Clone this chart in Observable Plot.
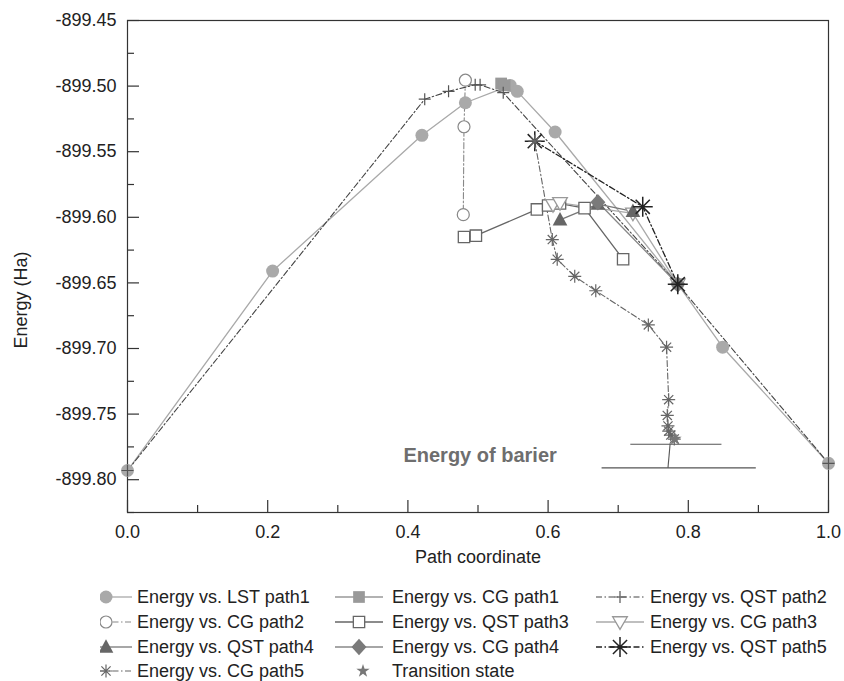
<!DOCTYPE html>
<html>
<head>
<meta charset="utf-8">
<script src="https://cdn.jsdelivr.net/npm/d3@7"></script>
<script src="https://cdn.jsdelivr.net/npm/@observablehq/plot@0.6"></script>
<style>
html,body{margin:0;padding:0;background:#fff;}
#wrap{position:relative;width:844px;height:681px;overflow:hidden;font-family:"Liberation Sans",Arial,Helvetica,sans-serif;}
#chart{position:absolute;left:0;top:0;}
.lt{position:absolute;font-size:18px;color:#222;white-space:nowrap;line-height:20px;}
.ls{position:absolute;}
</style>
</head>
<body>
<div id="wrap"><div id="chart"></div></div>
<script>
// ---- data ----
const lstX  = [0, 0.207, 0.42, 0.482, 0.546, 0.556, 0.61, 0.785, 0.849, 1.0];
const lstY  = [-899.793, -899.641, -899.5375, -899.5127, -899.4995, -899.504, -899.535, -899.651, -899.699, -899.7875];
const cg1X  = [0.533, 0.538];
const cg1Y  = [-899.498, -899.4995];
const qst2X = [0, 0.424, 0.458, 0.496, 0.503, 0.536, 0.785, 1.0];
const qst2Y = [-899.793, -899.510, -899.504, -899.499, -899.499, -899.505, -899.651, -899.7875];
const cg2X  = [0.482, 0.480, 0.479];
const cg2Y  = [-899.4955, -899.531, -899.598];
const qst3X = [0.480, 0.497, 0.584, 0.600, 0.617, 0.652, 0.707];
const qst3Y = [-899.615, -899.614, -899.594, -899.591, -899.5895, -899.593, -899.632];
const cg3X  = [0.607, 0.617, 0.721, 0.785];
const cg3Y  = [-899.5905, -899.589, -899.597, -899.651];
const qst4X = [0.617, 0.671, 0.721];
const qst4Y = [-899.602, -899.590, -899.5955];
const cg4X  = [0.671, 0.785];
const cg4Y  = [-899.5885, -899.651];
const qst5X = [0.581, 0.735, 0.785];
const qst5Y = [-899.542, -899.592, -899.651];
const cg5X  = [0.581, 0.606, 0.613, 0.638, 0.668, 0.743, 0.769, 0.772, 0.770, 0.771, 0.772, 0.775, 0.780];
const cg5Y  = [-899.542, -899.617, -899.632, -899.645, -899.656, -899.682, -899.699, -899.739, -899.751, -899.759, -899.763, -899.766, -899.769];
const tsX   = [0.781];
const tsY   = [-899.769];
const barrierLevels = [-899.773, -899.791];
const barrierX1 = [0.718, 0.677];
const barrierX2 = [0.848, 0.897];
const barrierLink = {x1: 0.774, y1: -899.773, x2: 0.771, y2: -899.791};
const barrierLabel = {x: 0.503, y: -899.7815, text: "Energy of barier"};
const xTicks = [0, 0.2, 0.4, 0.6, 0.8, 1.0];
const xMinor = [0.1, 0.3, 0.5, 0.7, 0.9];
const yTicks = [-899.80, -899.75, -899.70, -899.65, -899.60, -899.55, -899.50, -899.45];
const yMinor = [-899.825, -899.775, -899.725, -899.675, -899.625, -899.575, -899.525, -899.475];
const xLabel = "Path coordinate";
const yLabel = "Energy (Ha)";

// ---- symbols ----
const rad = s => Math.sqrt(s / Math.PI);
const symCircle = {draw(c, s){ const r = rad(s); c.moveTo(r,0); c.arc(0,0,r,0,2*Math.PI); }};
const symSquare = {draw(c, s){ const r = rad(s)*0.9; c.rect(-r,-r,2*r,2*r); }};
const symTriUp = {draw(c, s){ const r = rad(s); c.moveTo(0,-r*1.05); c.lineTo(r*0.98,r*0.75); c.lineTo(-r*0.98,r*0.75); c.closePath(); }};
const symTriDown = {draw(c, s){ const r = rad(s); c.moveTo(-r*1.05,-r*0.75); c.lineTo(r*1.05,-r*0.75); c.lineTo(0,r*1.05); c.closePath(); }};
const symDiamond = {draw(c, s){ const r = rad(s); c.moveTo(0,-r*1.1); c.lineTo(r,0); c.lineTo(0,r*1.1); c.lineTo(-r,0); c.closePath(); }};
const symPlus = {draw(c, s){ const r = rad(s); c.moveTo(-r,0); c.lineTo(r,0); c.moveTo(0,-r); c.lineTo(0,r); }};
const symAst = {draw(c, s){ const r = rad(s); for (let i = 0; i < 4; i++){ const a = i*Math.PI/4, dx = r*Math.cos(a), dy = r*Math.sin(a); c.moveTo(-dx,-dy); c.lineTo(dx,dy);} }};
const symStar = d3.symbolStar;

const DD = "6,2.5,1.5,2.5";
const series = [
  {label:"Energy vs. LST path1", xs:lstX,  ys:lstY,  sym:symCircle,  r:6.5, fill:"#a9a9a9", stroke:"none", sw:1,   line:"#a9a9a9", lw:1.3, dash:null},
  {label:"Energy vs. CG path1",  xs:cg1X,  ys:cg1Y,  sym:symSquare,  r:6.5, fill:"#999999", stroke:"none", sw:1,   line:"#999999", lw:1.3, dash:null},
  {label:"Energy vs. QST path2", xs:qst2X, ys:qst2Y, sym:symPlus,    r:6,   fill:"none",    stroke:"#555", sw:1.2, line:"#444",    lw:1.1, dash:DD},
  {label:"Energy vs. CG path2",  xs:cg2X,  ys:cg2Y,  sym:symCircle,  r:6,   fill:"white",   stroke:"#888", sw:1.2, line:"#888",    lw:1.1, dash:DD},
  {label:"Energy vs. QST path3", xs:qst3X, ys:qst3Y, sym:symSquare,  r:6.3, fill:"white",   stroke:"#666", sw:1.3, line:"#666",    lw:1.3, dash:null},
  {label:"Energy vs. CG path3",  xs:cg3X,  ys:cg3Y,  sym:symTriDown, r:7,   fill:"white",   stroke:"#999", sw:1.3, line:"#aaaaaa", lw:1.3, dash:null},
  {label:"Energy vs. QST path4", xs:qst4X, ys:qst4Y, sym:symTriUp,   r:7.5, fill:"#666666", stroke:"none", sw:1,   line:"#777",    lw:1.3, dash:null},
  {label:"Energy vs. CG path4",  xs:cg4X,  ys:cg4Y,  sym:symDiamond, r:7.5, fill:"#7a7a7a", stroke:"none", sw:1,   line:"#888",    lw:1.3, dash:null},
  {label:"Energy vs. QST path5", xs:qst5X, ys:qst5Y, sym:symAst,     r:10,  fill:"none",    stroke:"#222", sw:1.5, line:"#222",    lw:1.3, dash:DD},
  {label:"Energy vs. CG path5",  xs:cg5X,  ys:cg5Y,  sym:symAst,     r:6.5, fill:"none",    stroke:"#666", sw:1.2, line:"#666",    lw:1.1, dash:DD},
  {label:"Transition state",     xs:tsX,   ys:tsY,   sym:symStar,    r:4.2, fill:"#777777", stroke:"none", sw:1,   line:null,      lw:0,   dash:null}
];
series.forEach(s => s.data = s.xs.map((x, i) => ({x, y: s.ys[i]})));

const yMin = -899.825, yMax = -899.45;
const H = 580, MT = 20, MB = 68, ML = 127, MR = 16;
const pxY = (yMax - yMin) / (H - MT - MB), pxX = 1 / (844 - ML - MR);

const marks = [
  Plot.frame({stroke: "#333", strokeWidth: 1.2}),
  Plot.ruleX(xTicks, {x: d => d, y1: () => yMin, y2: () => yMin + 12*pxY, stroke: "#333", strokeWidth: 1.2}),
  Plot.ruleX(xMinor, {x: d => d, y1: () => yMin, y2: () => yMin + 7*pxY, stroke: "#333", strokeWidth: 1.2}),
  Plot.ruleY(yTicks, {y: d => d, x1: () => 0, x2: () => 12*pxX, stroke: "#333", strokeWidth: 1.2}),
  Plot.ruleY(yMinor, {y: d => d, x1: () => 0, x2: () => 7*pxX, stroke: "#333", strokeWidth: 1.2}),
  Plot.axisX({ticks: xTicks, tickSize: 0, tickPadding: 13, tickFormat: d => d.toFixed(1), label: null}),
  Plot.axisY({ticks: yTicks, tickSize: 0, tickPadding: 11, tickFormat: d => d.toFixed(2), label: null}),
  Plot.text([xLabel], {frameAnchor: "bottom", dy: 50, text: d => d, fill: "#222"}),
  Plot.text([yLabel], {x: () => 0, y: () => -899.663, dx: -106, rotate: -90, textAnchor: "middle", lineAnchor: "middle", text: d => d, fill: "#222"}),
  Plot.ruleY(barrierLevels, {y: d => d, x1: (d, i) => barrierX1[i], x2: (d, i) => barrierX2[i], stroke: "#555", strokeWidth: 1.1}),
  Plot.link([barrierLink], {x1: "x1", y1: "y1", x2: "x2", y2: "y2", stroke: "#555", strokeWidth: 1.1}),
  Plot.text([barrierLabel], {x: "x", y: "y", text: "text", fontSize: 20, fontWeight: "bold", fill: "#6e6e6e"})
];
series.forEach(s => {
  if (s.line) marks.push(Plot.line(s.data, {x: "x", y: "y", stroke: s.line, strokeWidth: s.lw, strokeDasharray: s.dash || undefined}));
});
series.forEach(s => {
  marks.push(Plot.dot(s.data, {x: "x", y: "y", symbol: s.sym, r: s.r, fill: s.fill, stroke: s.stroke, strokeWidth: s.sw}));
});

const chart = Plot.plot({
  width: 844, height: H,
  marginLeft: ML, marginRight: MR, marginTop: MT, marginBottom: MB,
  x: {domain: [0, 1], axis: null},
  y: {domain: [yMin, yMax], axis: null},
  style: {fontFamily: "'Liberation Sans', Arial, Helvetica, sans-serif", fontSize: "18px", color: "#222", background: "white", overflow: "visible"},
  marks
});
document.getElementById("chart").appendChild(chart);

// ---- legend ----
const wrap = document.getElementById("wrap");
const colSample = [[100, 132, 106], [335, 383, 359], [596, 644, 620]]; // line start, line end, marker x
const colText = [137, 392, 650];
const rowY = [597, 622, 647, 671];
series.forEach((s, i) => {
  const row = Math.floor(i / 3), col = i % 3;
  const [a, b, m] = colSample[col];
  const svg = d3.create("svg").attr("class", "ls").attr("width", b - a + 2).attr("height", 24)
    .style("left", a + "px").style("top", (rowY[row] - 12) + "px");
  if (s.line) svg.append("line").attr("x1", 0).attr("x2", b - a).attr("y1", 12).attr("y2", 12)
    .attr("stroke", s.line).attr("stroke-width", s.lw).attr("stroke-dasharray", s.dash);
  const mx = s.line ? m - a : (m - a) + 4;
  svg.append("path").attr("transform", `translate(${mx},12)`)
    .attr("d", d3.symbol(s.sym, Math.PI * s.r * s.r)())
    .attr("fill", s.fill).attr("stroke", s.stroke).attr("stroke-width", s.sw);
  wrap.appendChild(svg.node());
  const t = document.createElement("div");
  t.className = "lt";
  t.textContent = s.label;
  t.style.left = colText[col] + "px";
  t.style.top = (rowY[row] - 10) + "px";
  wrap.appendChild(t);
});
</script>
</body>
</html>
